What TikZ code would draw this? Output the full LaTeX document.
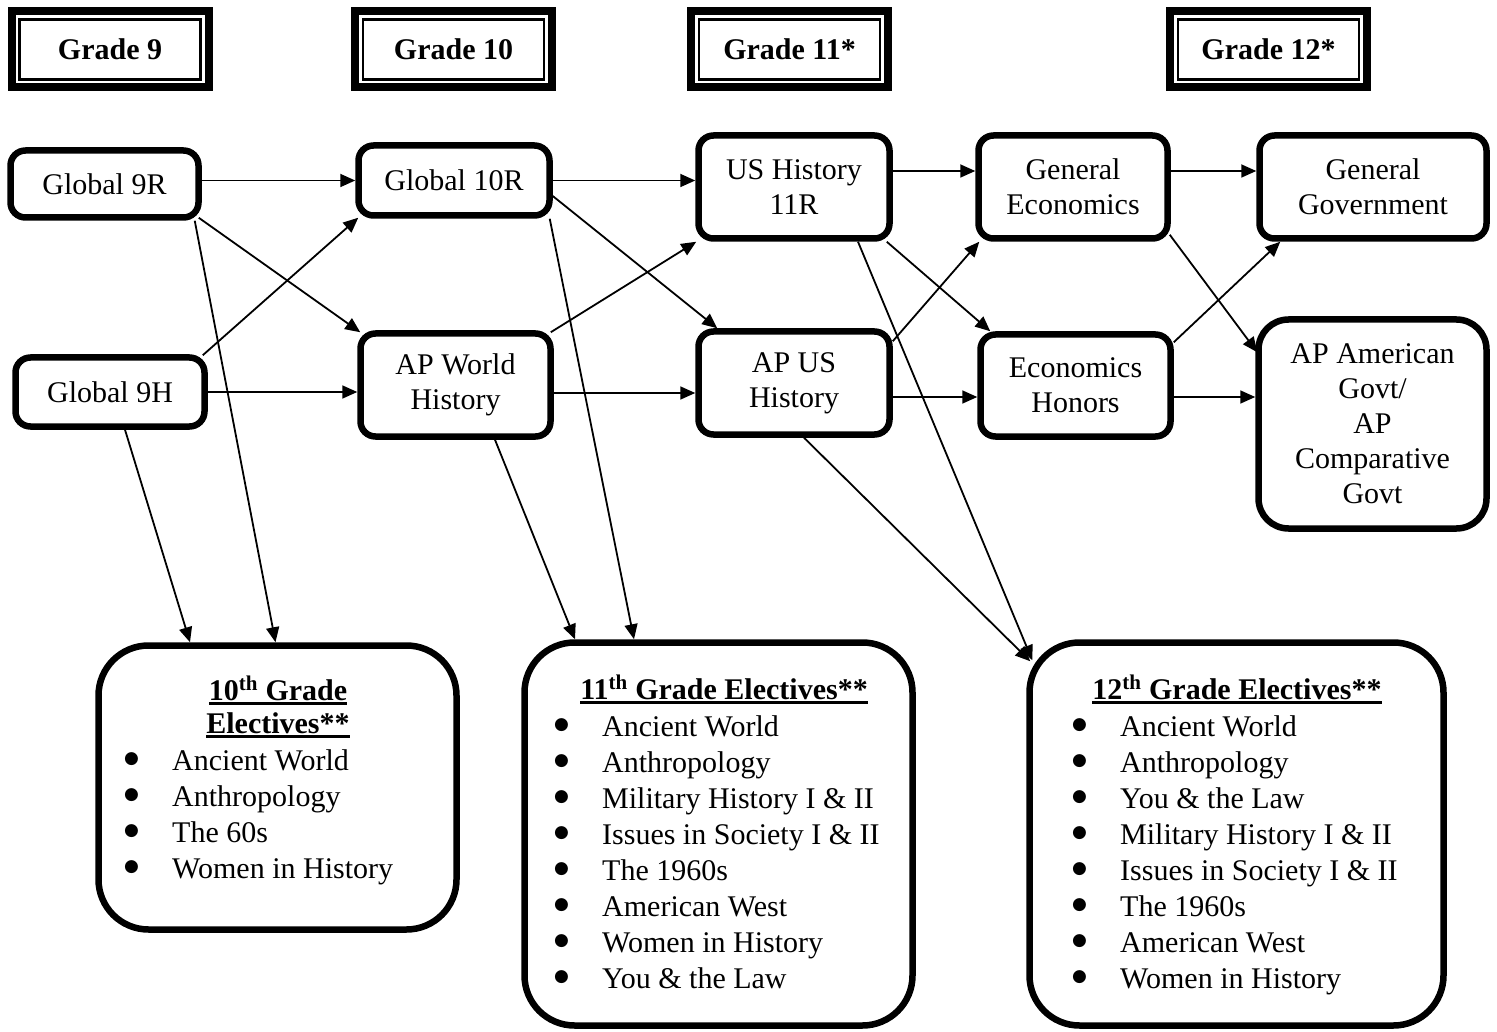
\documentclass[tikz,border=0pt]{standalone}
\usepackage{fontspec}
\setmainfont{Liberation Serif}
\newfontfamily\bltfont{DejaVu Sans}
\usetikzlibrary{arrows.meta}
\newcommand{\undl}[1]{\setbox0\hbox{#1}\rlap{\rule[-4.5pt]{\wd0}{2.4pt}}\box0}
\newcommand{\blt}{\raisebox{6.5pt}{\bltfont\fontsize{17}{17}\selectfont ●}}
\begin{document}
\begin{tikzpicture}[x=1pt,y=-1pt,
	box/.style={draw,line width=6.5pt,rounded corners=15pt,align=center,inner sep=0pt,font=\fontsize{30}{35}\selectfont},
	bigbox/.style={draw,line width=6.5pt,rounded corners=50pt,inner sep=0pt},
	gradebox/.style={draw,line width=2.5pt,outer sep=0pt,minimum width=181pt,minimum height=60pt,font=\fontsize{30}{36}\selectfont\bfseries},
	arr/.style={line width=1.8pt,-{Triangle[length=15pt,width=13pt]}},
	listtext/.style={inner sep=0pt,anchor=base west,font=\fontsize{30}{36}\selectfont},
	eltitle/.style={inner sep=0pt,anchor=base,font=\fontsize{30}{33}\selectfont\bfseries}]
	\useasboundingbox (0,0) rectangle (1497,1032);
	% en-tetes des annees
	\node[gradebox] (gr9) at (110,49.5) {Grade 9};
	\node[gradebox] (gr10) at (453.5,49.5) {Grade 10};
	\node[gradebox] (gr11) at (789.5,49.5) {Grade 11*};
	\node[gradebox] (gr12) at (1268.5,49.5) {Grade 12*};
	\draw[line width=8pt] ([xshift=-8pt,yshift=8pt]gr9.north west) rectangle ([xshift=8pt,yshift=-8pt]gr9.south east);
	\draw[line width=8pt] ([xshift=-8pt,yshift=8pt]gr10.north west) rectangle ([xshift=8pt,yshift=-8pt]gr10.south east);
	\draw[line width=8pt] ([xshift=-8pt,yshift=8pt]gr11.north west) rectangle ([xshift=8pt,yshift=-8pt]gr11.south east);
	\draw[line width=8pt] ([xshift=-8pt,yshift=8pt]gr12.north west) rectangle ([xshift=8pt,yshift=-8pt]gr12.south east);
	% les cours
	\node[box,minimum width=188pt,minimum height=67pt] (g9r) at (104.5,184) {Global 9R};
	\node[box,minimum width=189pt,minimum height=69pt] (g9h) at (110,392) {Global 9H};
	\node[box,minimum width=191pt,minimum height=70pt] (g10r) at (454,180.5) {Global 10R};
	\node[box,minimum width=190pt,minimum height=103pt] (apw) at (455.5,385) {AP World\\History};
	\node[box,minimum width=191pt,minimum height=103pt] (us11) at (794,187) {US History\\11R};
	\node[box,minimum width=191pt,minimum height=103pt] (apus) at (794,383) {AP US\\History};
	\node[box,minimum width=189pt,minimum height=103pt] (gecon) at (1073,187) {General\\Economics};
	\node[box,minimum width=190pt,minimum height=102pt] (econh) at (1075.5,385.5) {Economics\\Honors};
	\node[box,minimum width=227pt,minimum height=103pt] (ggov) at (1373,187) {General\\Government};
	\node[box,rounded corners=30pt,minimum width=228pt,minimum height=209pt] (apgov) at (1372.5,424) {AP American\\Govt/\\AP\\Comparative\\Govt};
	% les options
	\node[bigbox,minimum width=358pt,minimum height=284pt] (el10) at (277.5,787.5) {};
	\node[bigbox,minimum width=388pt,minimum height=383pt] (el11) at (718.5,834) {};
	\node[bigbox,minimum width=414pt,minimum height=383pt] (el12) at (1236.5,834) {};
	\node[eltitle] (el10title) at (278,700) {\begin{tabular}[t]{@{}c@{}}\undl{10\textsuperscript{th} Grade}\\\undl{Electives**}\end{tabular}};
	\node[eltitle] (el11title) at (724,699) {\undl{11\textsuperscript{th} Grade Electives**}};
	\node[eltitle] (el12title) at (1237,699) {\undl{12\textsuperscript{th} Grade Electives**}};
	\node[listtext] (el10list) at (124,770) {\begin{tabular}[t]{@{}p{48pt}@{}l@{}}
		\blt & Ancient World\\
		\blt & Anthropology\\
		\blt & The 60s\\
		\blt & Women in History
	\end{tabular}};
	\node[listtext] (el11list) at (554,736) {\begin{tabular}[t]{@{}p{48pt}@{}l@{}}
		\blt & Ancient World\\
		\blt & Anthropology\\
		\blt & Military History I \& II\\
		\blt & Issues in Society I \& II\\
		\blt & The 1960s\\
		\blt & American West\\
		\blt & Women in History\\
		\blt & You \& the Law
	\end{tabular}};
	\node[listtext] (el12list) at (1072,736) {\begin{tabular}[t]{@{}p{48pt}@{}l@{}}
		\blt & Ancient World\\
		\blt & Anthropology\\
		\blt & You \& the Law\\
		\blt & Military History I \& II\\
		\blt & Issues in Society I \& II\\
		\blt & The 1960s\\
		\blt & American West\\
		\blt & Women in History
	\end{tabular}};
	% fleches grade 9
	\draw[arr] (g9r.east |- g10r.west) -- (g10r.west);
	\draw[arr] ([xshift=-3pt,yshift=3pt]g9r.south east) -- ([xshift=3pt,yshift=-2pt]apw.north west);
	\draw[arr] ([xshift=-7pt]g9r.south east) -- ([xshift=-2pt]el10.north);
	\draw[arr] ([xshift=-5pt,yshift=-1pt]g9h.north east) -- ([xshift=3pt,yshift=1pt]g10r.south west);
	\draw[arr] (g9h.east) -- (apw.west |- g9h.east);
	\draw[arr] ([xshift=15pt]g9h.south) -- ([xshift=-87.5pt]el10.north);
	% fleches grade 10
	\draw[arr] (g10r.east) -- (us11.west |- g10r.east);
	\draw[arr] ([yshift=-15.5pt]g10r.east) -- ([xshift=22pt]apus.north west);
	\draw[arr] ([xshift=-3pt]g10r.south east) -- ([xshift=-84.5pt]el11.north);
	\draw[arr] ([xshift=-3pt,yshift=-2pt]apw.north east) -- ([xshift=1pt]us11.south west);
	\draw[arr] ([yshift=-8pt]apw.east) -- ([yshift=-10pt]apus.west);
	\draw[arr] ([xshift=39.5pt]apw.south) -- ([xshift=-143.5pt]el11.north);
	% fleches grade 11
	\draw[arr] ([yshift=16pt]us11.east) -- ([yshift=16pt]gecon.west);
	\draw[arr] ([xshift=-6pt]us11.south east) -- ([xshift=13pt]econh.north west);
	\draw[arr] ([xshift=64pt]us11.south) -- ([xshift=6pt,yshift=-21pt]el12.north west);
	\draw[arr] ([yshift=-13pt]apus.north east) -- ([xshift=4pt]gecon.south west);
	\draw[arr] ([yshift=-14pt]apus.east) -- ([yshift=-11.5pt]econh.west);
	\draw[arr] ([xshift=10pt]apus.south) -- ([xshift=4pt,yshift=-22pt]el12.north west);
	% fleches grade 12
	\draw[arr] ([yshift=16pt]gecon.east) -- ([yshift=16pt]ggov.west);
	\draw[arr] ([xshift=-1pt,yshift=7pt]gecon.south east) -- ([xshift=2pt,yshift=-36pt]apgov.north west);
	\draw[arr] ([yshift=-11pt]econh.north east) -- ([xshift=24pt]ggov.south west);
	\draw[arr] ([yshift=-11.5pt]econh.east) -- ([yshift=27pt]apgov.west);
\end{tikzpicture}
\end{document}
